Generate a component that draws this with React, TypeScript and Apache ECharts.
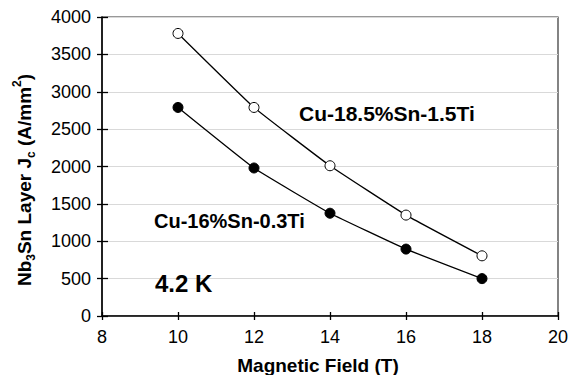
import React, { useEffect, useRef } from "react";
import * as echarts from "echarts";

const fieldT = [10, 12, 14, 16, 18];
const jcCu185 = [3780, 2790, 2010, 1350, 805];
const jcCu16 = [2790, 1980, 1375, 895, 500];
const xTicks = [8, 10, 12, 14, 16, 18, 20];
const yTicks = [0, 500, 1000, 1500, 2000, 2500, 3000, 3500, 4000];

const FONT = "'Liberation Sans', Arial, sans-serif";

export default function App() {
  const ref = useRef<HTMLDivElement>(null);
  useEffect(() => {
    if (!ref.current) return;
    const chart = echarts.init(ref.current, null, { renderer: "svg" });
    const pair = (xs: number[], ys: number[]) => xs.map((x, i) => [x, ys[i]]);
    const baseX = {
      type: "value",
      min: xTicks[0],
      max: xTicks[xTicks.length - 1],
      interval: 2,
    };
    const baseY = {
      type: "value",
      min: yTicks[0],
      max: yTicks[yTicks.length - 1],
      interval: 500,
    };
    chart.setOption({
      animation: false,
      backgroundColor: "#fff",
      textStyle: { fontFamily: FONT },
      grid: {
        left: 102,
        right: 17,
        top: 17,
        bottom: 59,
        show: true,
        borderColor: "#333",
        borderWidth: 1.2,
        backgroundColor: "transparent",
      },
      xAxis: [
        {
          ...baseX,
          axisLine: { lineStyle: { color: "#000", width: 1.5 } },
          axisTick: { show: true, inside: false, length: 4, lineStyle: { color: "#000", width: 1.3 } },
          axisLabel: { color: "#000", fontSize: 18, fontFamily: FONT, margin: 12, formatter: (v: number) => String(v) },
          splitLine: { show: false },
        },
        {
          ...baseX,
          position: "bottom",
          axisLine: { show: false },
          axisTick: { show: true, inside: true, length: 4, lineStyle: { color: "#000", width: 1.3 } },
          axisLabel: { show: false },
          splitLine: { show: false },
        },
      ],
      yAxis: [
        {
          ...baseY,
          axisLine: { show: true, lineStyle: { color: "#000", width: 1.5 } },
          axisTick: { show: true, inside: false, length: 5, lineStyle: { color: "#000", width: 1.3 } },
          axisLabel: { color: "#000", fontSize: 18, fontFamily: FONT, margin: 11, formatter: (v: number) => String(v) },
          splitLine: { show: true, lineStyle: { color: "#d9d9d9", width: 1.2 } },
        },
        {
          ...baseY,
          position: "left",
          axisLine: { show: false },
          axisTick: { show: true, inside: true, length: 6, lineStyle: { color: "#000", width: 1.3 } },
          axisLabel: { show: false },
          splitLine: { show: false },
        },
      ],
      series: [
        {
          name: "Cu-18.5%Sn-1.5Ti",
          type: "line",
          data: pair(fieldT, jcCu185),
          smooth: 0.1,
          symbol: "circle",
          symbolSize: 10,
          lineStyle: { color: "#000", width: 1.3 },
          itemStyle: { color: "#fff", borderColor: "#000", borderWidth: 1 },
          z: 3,
        },
        {
          name: "Cu-16%Sn-0.3Ti",
          type: "line",
          data: pair(fieldT, jcCu16),
          smooth: 0.1,
          symbol: "circle",
          symbolSize: 10,
          lineStyle: { color: "#000", width: 1.3 },
          itemStyle: { color: "#000", borderColor: "#000", borderWidth: 1 },
          z: 3,
        },
      ],
      graphic: [
        {
          type: "text",
          left: 299,
          top: 103,
          style: { text: "Cu-18.5%Sn-1.5Ti", fontSize: 21, fontWeight: "bold", fill: "#000", fontFamily: FONT },
          z: 10,
        },
        {
          type: "text",
          left: 154,
          top: 211,
          style: { text: "Cu-16%Sn-0.3Ti", fontSize: 20, fontWeight: "bold", fill: "#000", fontFamily: FONT },
          z: 10,
        },
        {
          type: "text",
          left: 155,
          top: 271,
          style: { text: "4.2 K", fontSize: 24, fontWeight: "bold", fill: "#000", fontFamily: FONT },
          z: 10,
        },
        {
          type: "text",
          x: 318,
          y: 365,
          style: {
            text: "Magnetic Field (T)",
            fontSize: 19,
            fontWeight: "bold",
            fill: "#000",
            fontFamily: FONT,
            align: "center",
            verticalAlign: "middle",
          },
          z: 10,
        },
        {
          type: "text",
          x: 24,
          y: 180,
          rotation: Math.PI / 2,
          style: {
            text: "{b|Nb}{s|3}{b|Sn Layer J}{s|c}{b| (A/mm}{p|2}{b|)}",
            align: "center",
            verticalAlign: "middle",
            fill: "#000",
            fontFamily: FONT,
            rich: {
              b: { fontSize: 19, fontWeight: "bold", fontFamily: FONT, lineHeight: 26, fill: "#000" },
              s: { fontSize: 12, fontWeight: "bold", fontFamily: FONT, lineHeight: 11, verticalAlign: "bottom", fill: "#000" },
              p: { fontSize: 12, fontWeight: "bold", fontFamily: FONT, lineHeight: 11, verticalAlign: "top", fill: "#000" },
            },
          },
          z: 10,
        },
      ],
    });
    return () => chart.dispose();
  }, []);
  return <div ref={ref} style={{ width: 575, height: 375, position: "absolute", left: 0, top: 0 }} />;
}
